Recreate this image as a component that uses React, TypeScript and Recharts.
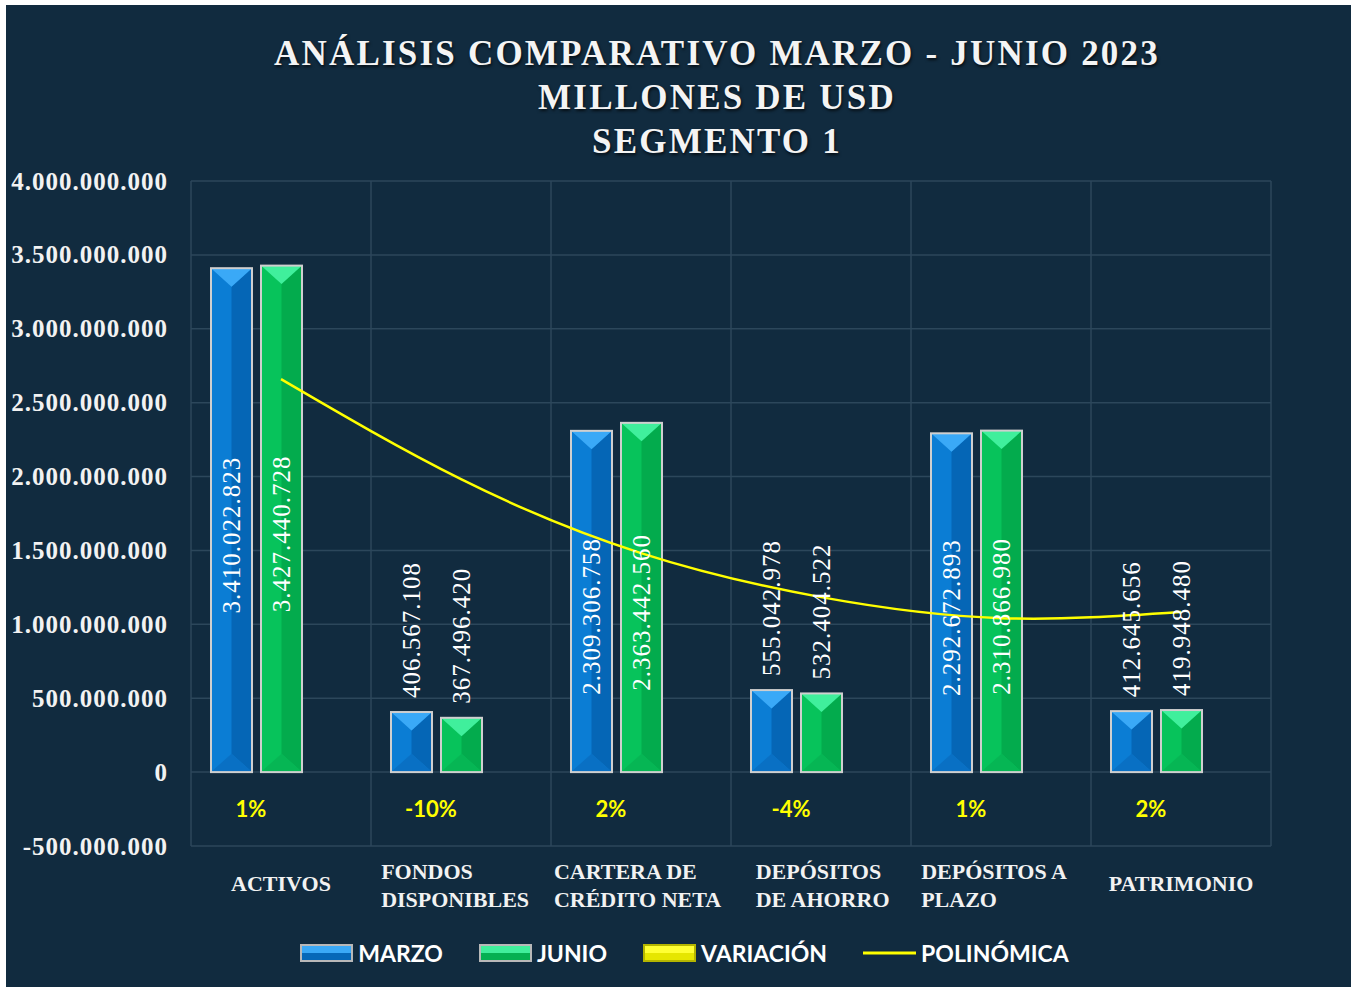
import React from "react";
import {
  Bar,
  CartesianGrid,
  ComposedChart,
  LabelList,
  Legend,
  Line,
  XAxis,
  YAxis,
} from "recharts";

// valores en USD
const CATEGORIAS = [
  ["ACTIVOS"],
  ["FONDOS", "DISPONIBLES"],
  ["CARTERA DE", "CRÉDITO NETA"],
  ["DEPÓSITOS", "DE AHORRO"],
  ["DEPÓSITOS A", "PLAZO"],
  ["PATRIMONIO"],
];
const MARZO = [3410022823, 406567108, 2309306758, 555042978, 2292672893, 412645656];
const JUNIO = [3427440728, 367496420, 2363442560, 532404522, 2310866980, 419948480];
const VARIACION = [0.01, -0.1, 0.02, -0.04, 0.01, 0.02];
const POLINOMICA = [2659000000, 1982000000, 1482000000, 1184000000, 1042000000, 1083000000];
const Y_TICKS = [
  -500000000, 0, 500000000, 1000000000, 1500000000, 2000000000, 2500000000,
  3000000000, 3500000000, 4000000000,
];
const TITULO = ["ANÁLISIS COMPARATIVO MARZO - JUNIO 2023", "MILLONES DE USD", "SEGMENTO 1"];

const data = CATEGORIAS.map((lines, i) => ({
  cat: lines.join("\n"),
  marzo: MARZO[i],
  junio: JUNIO[i],
  variacion: VARIACION[i],
  polinomica: POLINOMICA[i],
}));

const BG = "#112b3f";
const GRID = "#2c475b";
const SERIF = "'Liberation Serif', 'DejaVu Serif', serif";
const SANS = "Lato, 'Open Sans', sans-serif";

const AZUL = { top: "#3aa9f7", left: "#0b7dd4", right: "#0566b6", bottom: "#0970c4" };
const VERDE = { top: "#40ef9c", left: "#07c35b", right: "#03ab4d", bottom: "#06b654" };

const fmt = (n: number) =>
  Math.round(n)
    .toString()
    .replace(/\B(?=(\d{3})+(?!\d))/g, ".");

function bevel(c: typeof AZUL) {
  return (props: any) => {
    const { x, y, width: w, height: h } = props;
    if (!h || Math.abs(h) < 1) return <g />;
    const top = Math.min(y, y + h);
    const hh = Math.abs(h);
    const d = Math.min(w * 0.45, hh / 2);
    const cx = x + w / 2;
    const bot = top + hh;
    return (
      <g>
        <rect x={x} y={top} width={w} height={hh} fill={c.left} />
        <polygon
          points={`${cx},${top + d} ${x + w},${top} ${x + w},${bot} ${cx},${bot - d}`}
          fill={c.right}
        />
        <polygon points={`${x},${top} ${x + w},${top} ${cx},${top + d}`} fill={c.top} />
        <polygon points={`${x},${bot} ${x + w},${bot} ${cx},${bot - d}`} fill={c.bottom} />
        <rect
          x={x}
          y={top}
          width={w}
          height={hh}
          fill="none"
          stroke="#cfcfcf"
          strokeWidth={2}
        />
      </g>
    );
  };
}

function ValueLabel(props: any) {
  const { x, y, width, height, value } = props;
  const cx = x + width / 2;
  const inside = height > 250;
  const cy = inside ? y + height / 2 + 15 : y - 14;
  return (
    <text
      x={cx}
      y={cy}
      transform={`rotate(-90 ${cx} ${cy})`}
      textAnchor={inside ? "middle" : "start"}
      dominantBaseline="central"
      fill="#ffffff"
      fontFamily={SERIF}
      fontSize={25}
      letterSpacing={1}
    >
      {fmt(value)}
    </text>
  );
}

function PctLabel(props: any) {
  const { x, y, width, height, value } = props;
  return (
    <text
      x={x + width - 1}
      y={y + height + 36}
      textAnchor="middle"
      dominantBaseline="central"
      fill="#ffff00"
      fontFamily={SANS}
      fontWeight="bold"
      fontSize={22}
    >
      {Math.round(value * 100)}%
    </text>
  );
}

function YTick(props: any) {
  const { x, y, payload } = props;
  return (
    <text
      x={x}
      y={y}
      textAnchor="end"
      dominantBaseline="central"
      fill="#f2f2f2"
      fontFamily={SERIF}
      fontWeight="bold"
      fontSize={25}
      letterSpacing={1}
    >
      {fmt(payload.value)}
    </text>
  );
}

function XTick(props: any) {
  const { x, y, payload } = props;
  const lines: string[] = String(payload.value).split("\n");
  const fs = 22;
  if (lines.length === 1) {
    return (
      <text
        x={x}
        y={y + 37}
        textAnchor="middle"
        dominantBaseline="central"
        fill="#f2f2f2"
        fontFamily={SERIF}
        fontWeight="bold"
        fontSize={fs}
      >
        {lines[0]}
      </text>
    );
  }
  const w = Math.max(...lines.map((l) => l.length)) * 0.66 * fs;
  return (
    <g>
      {lines.map((l, i) => (
        <text
          key={l}
          x={x - w / 2}
          y={y + 25 + i * 28}
          textAnchor="start"
          dominantBaseline="central"
          fill="#f2f2f2"
          fontFamily={SERIF}
          fontWeight="bold"
          fontSize={fs}
        >
          {l}
        </text>
      ))}
    </g>
  );
}

function LegendIcon({ kind }: { kind: string }) {
  if (kind === "line") {
    return (
      <svg width={53} height={18}>
        <line x1={0} y1={9} x2={53} y2={9} stroke="#ffff00" strokeWidth={3} />
      </svg>
    );
  }
  const c =
    kind === "marzo"
      ? { a: "#3aa9f7", b: "#0668b8", s: "#b8b8b8" }
      : kind === "junio"
      ? { a: "#40ef9c", b: "#05b052", s: "#b8b8b8" }
      : { a: "#ffff33", b: "#e6e600", s: "#b5b500" };
  return (
    <svg width={53} height={18}>
      <rect x={1} y={1} width={51} height={16} fill={c.b} stroke={c.s} strokeWidth={2} />
      <rect x={2} y={2} width={49} height={7} fill={c.a} />
    </svg>
  );
}

const LEYENDA = [
  { kind: "marzo", name: "MARZO" },
  { kind: "junio", name: "JUNIO" },
  { kind: "variacion", name: "VARIACIÓN" },
  { kind: "line", name: "POLINÓMICA" },
];

function LegendContent() {
  return (
    <div
      style={{
        display: "flex",
        justifyContent: "center",
        alignItems: "center",
        height: 68,
        paddingLeft: 92,
        gap: 36,
      }}
    >
      {LEYENDA.map((it) => (
        <div key={it.name} style={{ display: "flex", alignItems: "center", gap: 5 }}>
          <LegendIcon kind={it.kind} />
          <span
            style={{
              color: "#ffffff",
              fontFamily: SANS,
              fontWeight: "bold",
              fontSize: 23,
            }}
          >
            {it.name}
          </span>
        </div>
      ))}
    </div>
  );
}

export default function App() {
  return (
    <>
      <style>{`body{margin:0}`}</style>
      <div
        style={{
          position: "relative",
          marginLeft: 6,
          marginTop: 5,
          width: 1345,
          height: 982,
          background: BG,
        }}
      >
        <ComposedChart
          width={1345}
          height={982}
          data={data}
          margin={{ top: 176, right: 80, left: 0, bottom: 0 }}
          barSize={41}
          barGap={9}
        >
          <CartesianGrid
            stroke={GRID}
            strokeWidth={1.5}
            verticalCoordinatesGenerator={({ offset }: any) =>
              CATEGORIAS.map((_, i) => offset.left + (i * offset.width) / CATEGORIAS.length).concat(
                offset.left + offset.width
              )
            }
          />
          <XAxis
            dataKey="cat"
            axisLine={false}
            tickLine={false}
            tickSize={0}
            tickMargin={0}
            height={73}
            interval={0}
            tick={<XTick />}
          />
          <YAxis
            width={185}
            domain={[-500000000, 4000000000]}
            ticks={Y_TICKS}
            axisLine={false}
            tickLine={false}
            tickSize={0}
            tickMargin={23}
            tick={<YTick />}
          />
          <Bar dataKey="marzo" name="MARZO" shape={bevel(AZUL)} isAnimationActive={false}>
            <LabelList dataKey="marzo" content={<ValueLabel />} />
            <LabelList dataKey="variacion" content={<PctLabel />} />
          </Bar>
          <Bar dataKey="junio" name="JUNIO" shape={bevel(VERDE)} isAnimationActive={false}>
            <LabelList dataKey="junio" content={<ValueLabel />} />
          </Bar>
          <Bar
            dataKey="variacion"
            name="VARIACIÓN"
            fill="#ffff00"
            shape={() => <g />}
            isAnimationActive={false}
          />
          <Line
            dataKey="polinomica"
            name="POLINÓMICA"
            type="natural"
            stroke="#ffff00"
            strokeWidth={2.5}
            dot={false}
            activeDot={false}
            isAnimationActive={false}
          />
          <Legend
            verticalAlign="bottom"
            wrapperStyle={{ height: 68 }}
            content={<LegendContent />}
          />
        </ComposedChart>
        <div
          style={{
            position: "absolute",
            top: 27,
            left: 77,
            width: 1268,
            textAlign: "center",
            fontFamily: SERIF,
            fontWeight: "bold",
            fontSize: 35,
            lineHeight: "44px",
            letterSpacing: 2.2,
            color: "#f4f4f4",
            textShadow: "1px 2px 3px rgba(0,0,0,0.7)",
            pointerEvents: "none",
          }}
        >
          {TITULO.map((t) => (
            <div key={t}>{t}</div>
          ))}
        </div>
      </div>
    </>
  );
}
